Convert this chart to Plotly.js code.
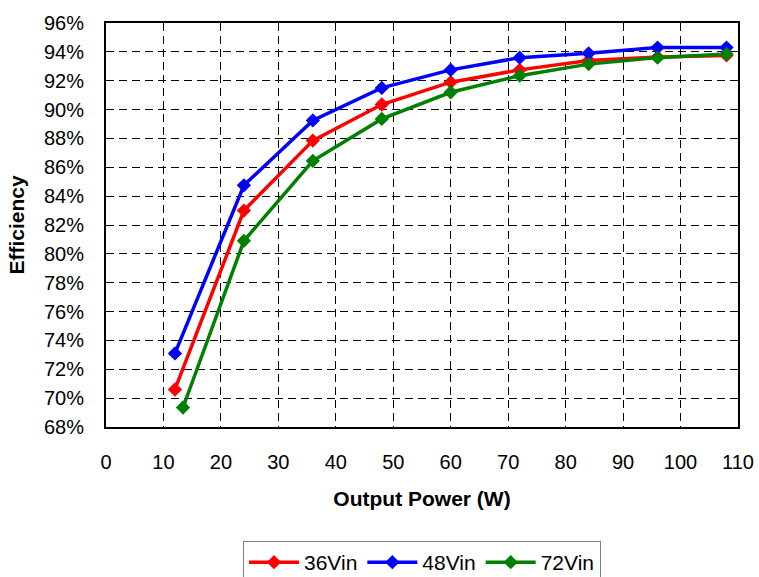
<!DOCTYPE html>
<html>
<head>
<meta charset="utf-8">
<script src="https://cdn.plot.ly/plotly-3.0.1.min.js"></script>
<style>html,body{margin:0;padding:0;background:#fff;}#chart{width:759px;height:577px;}</style>
</head>
<body>
<div id="chart"></div>
<script>
const seriesNames = ["36Vin", "48Vin", "72Vin"];
const seriesColors = ["#ff0000", "#0000ff", "#008000"];
const power36 = [12, 24, 36, 48, 60, 72, 84, 96, 108];
const eff36 = [70.6, 83.0, 87.85, 90.35, 91.9, 92.75, 93.4, 93.65, 93.75];
const power48 = [12, 24, 36, 48, 60, 72, 84, 96, 108];
const eff48 = [73.1, 84.75, 89.25, 91.5, 92.75, 93.6, 93.9, 94.3, 94.3];
const power72 = [13.4, 24, 36, 48, 60, 72, 84, 96, 108];
const eff72 = [69.35, 80.9, 86.45, 89.35, 91.2, 92.35, 93.15, 93.6, 93.85];

const xs = [power36, power48, power72];
const ys = [eff36, eff48, eff72];

const traces = seriesNames.map((n, i) => ({
  x: xs[i], y: ys[i], name: n, type: "scatter", mode: "lines+markers",
  line: {color: seriesColors[i], width: 3.5},
  marker: {symbol: "diamond", size: 11, color: seriesColors[i]}
}));

const font = "Liberation Sans, Arial, sans-serif";
const layout = {
  width: 759, height: 577,
  margin: {l: 106, r: 21, t: 23, b: 150},
  paper_bgcolor: "#fff", plot_bgcolor: "#fff",
  font: {family: font, size: 20, color: "#000"},
  showlegend: true,
  legend: {orientation: "h", x: 0.5, xanchor: "center", xref: "paper",
           y: 0.0624, yanchor: "top", yref: "container",
           bordercolor: "#808080", borderwidth: 1, font: {size: 21, family: font},
           itemwidth: 50, tracegroupgap: 0},
  xaxis: {
    range: [0, 110], dtick: 10, tick0: 0, showgrid: true, gridcolor: "#000", griddash: "8px,5px", gridwidth: 1,
    zeroline: false, showline: true, linecolor: "#000", linewidth: 2, mirror: true,
    ticks: "", ticklabelstandoff: 16, tickfont: {size: 20, family: font},
    automargin: false,
    title: {text: "<b>Output Power (W)</b>", font: {size: 21, family: font}, standoff: 19}
  },
  yaxis: {
    range: [68, 96], dtick: 2, tick0: 68, ticksuffix: "%", showgrid: true, gridcolor: "#000", griddash: "8px,5px", gridwidth: 1,
    zeroline: false, showline: true, linecolor: "#000", linewidth: 2, mirror: true,
    ticks: "", ticklabelstandoff: 16, tickfont: {size: 20, family: font},
    automargin: false,
    title: {text: "<b>Efficiency</b>", font: {size: 21, family: font}, standoff: 14}
  }
};
Plotly.newPlot("chart", traces, layout, {displayModeBar: false, staticPlot: true});
</script>
</body>
</html>
